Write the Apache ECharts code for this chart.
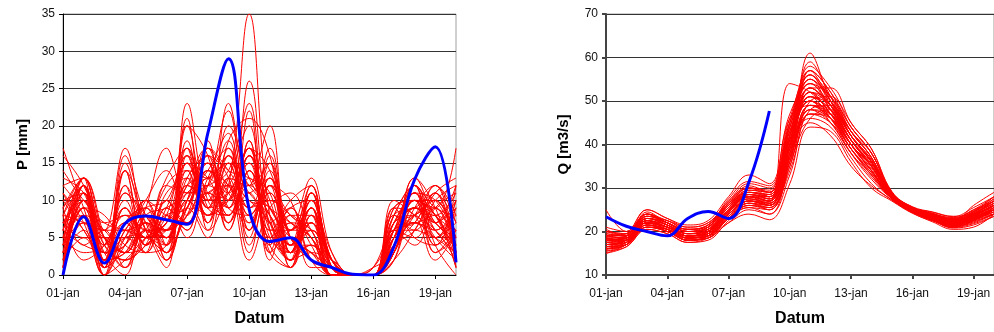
<!DOCTYPE html>
<html>
<head>
<meta charset="utf-8">
<script src="https://cdn.jsdelivr.net/npm/echarts@6/dist/echarts.min.js"></script>
<style>
  html, body { margin: 0; padding: 0; background: #fff; }
  #chart { width: 994px; height: 332px; }
</style>
</head>
<body>
<div id="chart"></div>
<script>
// Forecast dates (daily)
const days = ['01-jan','02-jan','03-jan','04-jan','05-jan','06-jan','07-jan','08-jan','09-jan','10-jan',
              '11-jan','12-jan','13-jan','14-jan','15-jan','16-jan','17-jan','18-jan','19-jan','20-jan'];

// Precipitation ensemble members [mm]
const precipMembers = [
  [17, 9, 2, 6, 5, 4, 10, 8, 12, 35, 8, 3, 6, 1, 0, 0, 4, 7, 5, 3],
  [16, 12, 5, 3, 7, 6, 9, 14, 10, 26, 6, 2, 9, 2, 0, 0, 6, 9, 8, 2],
  [12, 13, 6, 17, 6, 3, 23, 10, 8, 16, 9, 5, 3, 0, 0, 0, 3, 10, 9, 17],
  [10, 11, 1, 16, 8, 5, 20, 16, 6, 14, 4, 1, 11, 1, 0, 1, 8, 12, 7, 5],
  [8, 12, 2, 14, 4, 9, 15, 7, 23, 12, 20, 3, 7, 2, 0, 0, 5, 8, 10, 4],
  [7, 10, 4, 2, 9, 17, 11, 12, 14, 23, 3, 9, 4, 0, 0, 0, 2, 6, 11, 13],
  [5, 8, 3, 5, 6, 13, 17, 6, 18, 21, 16, 2, 10, 1, 0, 0, 9, 5, 4, 12],
  [3, 6, 1, 4, 10, 8, 7, 17, 9, 8, 14, 6, 13, 3, 0, 0, 7, 11, 3, 6],
  [0, 9, 7, 8, 3, 4, 12, 11, 16, 5, 12, 10, 2, 1, 0, 0, 4, 13, 9, 1],
  [1, 12, 0, 2, 5, 7, 16, 9, 12, 17, 2, 8, 5, 0, 0, 0, 3, 9, 12, 8],
  [9, 4, 6, 1, 8, 3, 9, 15, 6, 13, 7, 4, 11, 2, 0, 0, 6, 7, 5, 10],
  [6, 11, 2, 7, 4, 10, 5, 13, 17, 9, 11, 1, 8, 0, 0, 0, 10, 8, 6, 2],
  [4, 13, 5, 3, 6, 5, 14, 8, 10, 17, 5, 7, 1, 1, 0, 0, 5, 10, 8, 3],
  [11, 7, 0, 6, 9, 2, 10, 16, 13, 2, 9, 11, 6, 2, 0, 0, 4, 6, 11, 7],
  [2, 10, 3, 0, 7, 6, 8, 12, 22, 11, 13, 3, 9, 0, 0, 0, 8, 12, 4, 0],
  [8, 2, 4, 9, 5, 11, 13, 7, 15, 6, 17, 5, 3, 1, 0, 0, 2, 9, 7, 4],
  [5, 9, 8, 4, 3, 8, 6, 18, 7, 14, 6, 2, 12, 2, 0, 0, 6, 4, 9, 11],
  [0, 12, 1, 11, 6, 1, 17, 10, 11, 16, 3, 6, 7, 0, 0, 0, 9, 8, 2, 6],
  [7, 5, 5, 3, 8, 9, 11, 14, 19, 8, 10, 8, 5, 1, 0, 1, 3, 11, 10, 5],
  [3, 11, 2, 12, 4, 6, 9, 5, 13, 12, 15, 3, 10, 3, 0, 0, 5, 7, 6, 9],
  [12, 8, 0, 5, 10, 4, 20, 9, 8, 18, 7, 9, 2, 0, 0, 0, 7, 10, 8, 1],
  [6, 13, 4, 2, 5, 12, 14, 13, 16, 4, 12, 1, 8, 1, 0, 0, 4, 8, 12, 3],
  [4, 7, 6, 6, 7, 3, 8, 11, 9, 22, 4, 7, 6, 0, 0, 0, 6, 12, 5, 7],
  [1, 10, 1, 9, 5, 7, 12, 17, 14, 10, 9, 4, 11, 2, 0, 0, 8, 6, 9, 2],
  [9, 12, 3, 4, 8, 5, 10, 6, 11, 15, 5, 3, 4, 1, 0, 0, 3, 9, 7, 10],
  [10, 6, 2, 14, 3, 9, 6, 14, 12, 7, 11, 6, 9, 0, 0, 0, 5, 10, 3, 5],
  [2, 9, 5, 1, 6, 4, 15, 9, 20, 13, 8, 2, 7, 2, 0, 0, 6, 5, 10, 12],
  [7, 11, 0, 7, 9, 6, 11, 12, 10, 17, 14, 5, 3, 1, 0, 0, 2, 11, 8, 4],
  [5, 3, 4, 10, 4, 8, 9, 16, 7, 11, 6, 10, 12, 0, 0, 0, 7, 9, 6, 8],
  [0, 8, 2, 3, 7, 2, 13, 8, 15, 9, 10, 7, 5, 1, 0, 0, 4, 7, 11, 1],
  [14, 10, 7, 6, 5, 10, 7, 11, 9, 14, 3, 1, 8, 2, 0, 0, 9, 10, 4, 6],
  [3, 12, 1, 15, 6, 3, 16, 7, 13, 3, 12, 8, 6, 0, 0, 0, 5, 8, 9, 3],
  [6, 4, 3, 2, 4, 7, 10, 15, 8, 12, 8, 3, 10, 1, 0, 0, 3, 12, 7, 9],
  [8, 13, 6, 8, 8, 5, 12, 10, 17, 6, 13, 4, 4, 0, 0, 1, 6, 9, 5, 2],
  [4, 9, 2, 5, 10, 14, 8, 13, 11, 16, 9, 6, 11, 1, 0, 0, 8, 7, 8, 6],
  [1, 7, 5, 3, 6, 6, 18, 9, 12, 10, 7, 2, 3, 2, 0, 0, 4, 10, 6, 4],
  [13, 11, 4, 8, 6, 5, 12, 13, 15, 11, 8, 4, 6, 1, 0, 0, 5, 9, 8, 11],
  [5, 12, 3, 14, 7, 2, 10, 15, 12, 9, 16, 3, 7, 0, 0, 0, 7, 8, 10, 5],
  [2, 5, 1, 6, 9, 10, 16, 11, 7, 18, 5, 9, 10, 2, 0, 0, 3, 11, 6, 3],
  [9, 13, 5, 1, 5, 6, 8, 17, 14, 13, 11, 2, 4, 1, 0, 0, 6, 7, 12, 7],
  [4, 10, 2, 11, 8, 4, 21, 9, 10, 15, 6, 6, 9, 0, 0, 0, 9, 10, 7, 4],
  [7, 8, 6, 3, 4, 12, 11, 12, 18, 7, 12, 5, 2, 1, 0, 0, 4, 12, 9, 8],
  [0, 11, 0, 9, 6, 7, 14, 8, 13, 20, 4, 8, 8, 2, 0, 0, 6, 6, 5, 10],
  [11, 6, 3, 4, 10, 3, 9, 14, 11, 6, 15, 4, 12, 1, 0, 0, 8, 9, 11, 2],
  [6, 12, 4, 7, 5, 8, 17, 10, 16, 12, 9, 7, 5, 0, 0, 0, 5, 13, 8, 6],
  [3, 9, 1, 12, 7, 5, 13, 16, 9, 17, 10, 3, 11, 1, 0, 0, 7, 8, 4, 9],
  [8, 7, 5, 5, 3, 9, 7, 11, 12, 8, 13, 6, 6, 2, 0, 0, 3, 10, 10, 3],
  [1, 13, 2, 3, 8, 6, 15, 13, 8, 16, 7, 2, 9, 0, 0, 0, 6, 11, 7, 12]
];

// Observed precipitation [mm]
const precipObserved = [0, 7.8, 1.6, 6.9, 7.9, 7.4, 6.8, 19, 29, 8.8, 4.5, 5.0, 2.0, 1.0, 0.1, 0, 3.8, 12.8, 17.2, 1.7];

// Discharge ensemble members [m3/s]
const dischargeMembers = [
  [15, 17, 21, 20, 18, 19, 23, 26, 25, 38, 61, 50, 41, 35, 28, 25, 23, 21.5, 23, 26],
  [16, 17.5, 22, 21, 18.5, 19.5, 24, 27, 26, 40, 59, 51, 42, 36, 28.5, 25.2, 23.5, 22, 24, 27],
  [17, 18, 23, 22, 19, 20, 25, 28, 28, 42, 57, 52, 43, 37, 28, 25, 23, 21, 22.5, 25],
  [18, 19, 24, 21.5, 20, 21, 26, 30, 29, 44, 56, 49, 40, 34, 27.5, 24.8, 23, 22, 24.5, 28],
  [19, 18.5, 22.5, 20.5, 19, 19, 24, 27, 27, 54, 52, 47, 39, 33, 27.8, 24.5, 22.5, 21, 23, 24],
  [20, 19.5, 23.5, 22.5, 21, 22, 27, 31, 30, 45, 55, 50, 43, 38, 29, 25.5, 24, 23, 25, 27],
  [25, 20, 25, 23, 21.5, 22.5, 28, 33, 31, 47, 54, 48, 41, 35, 28.3, 25, 23.2, 22.5, 26, 29],
  [16.5, 17, 21.5, 20, 18, 18.5, 23, 25.5, 24, 36, 53, 53, 45, 39, 29, 25.7, 24.5, 23.5, 24, 25],
  [17.5, 18.5, 22, 21, 19.5, 20.5, 24.5, 28.5, 27.5, 41, 52, 50, 42, 36, 28.2, 24.8, 23, 21.8, 23.5, 26],
  [18.5, 18, 23, 21.5, 18.5, 19, 25, 27.5, 26.5, 39, 51, 46, 38, 32, 27.5, 24.5, 22.8, 21.2, 22, 24],
  [19.5, 19, 24.5, 22, 20.5, 21.5, 26.5, 29, 28.5, 43, 50, 47, 40, 34, 28, 25, 23.5, 22.3, 24, 26.5],
  [15.5, 16.5, 20.5, 19.5, 17.5, 18, 22.5, 26, 25.5, 34, 48, 49, 42, 36, 28.8, 25.3, 24, 23, 25, 28],
  [17, 17.5, 21, 20.5, 19, 19.5, 24, 27, 26, 37, 47, 45, 39, 33, 27.7, 24.6, 22.6, 20.8, 21.5, 23.5],
  [18, 18, 22, 21, 18.5, 20, 25.5, 28, 27, 40, 46, 44, 37, 31, 27.2, 24.3, 22.2, 20.5, 21, 24],
  [20.5, 19, 23, 22, 20, 21, 27, 30, 29.5, 46, 49, 46, 40, 35, 28.4, 25.1, 23.3, 22, 23.8, 26],
  [16, 17, 21, 20, 18, 18.5, 22, 24, 22.7, 31, 44, 43, 36, 30, 27, 24.2, 22.4, 21, 22.5, 25],
  [17.5, 18, 22.5, 21.5, 19.5, 20, 24.5, 27.5, 27, 39, 45, 42, 35, 30.5, 27.3, 24.4, 22.9, 21.6, 23, 25.5],
  [19, 19.5, 24, 22.5, 20.5, 21.5, 25.5, 29.5, 29, 44, 53, 48, 41, 35.5, 28.6, 25.3, 23.8, 22.4, 24.2, 27],
  [18, 18.5, 22, 21, 19, 19.5, 24, 26.5, 25, 35, 50, 51, 44, 38, 28.9, 25.6, 24.2, 22.8, 23.5, 25],
  [16.5, 17.5, 21.5, 20.5, 18, 19, 23.5, 26, 25.5, 37, 57, 50, 42, 36, 28.1, 24.9, 23.1, 21.4, 22.8, 24.5],
  [21, 20, 25, 23, 21, 22, 26, 29, 28, 42, 58, 53, 45, 39, 29.2, 25.6, 24.4, 23.4, 25.5, 28],
  [17, 18, 22.5, 21, 19, 20, 25, 28, 26, 39, 52, 47, 40, 34, 27.9, 24.7, 22.9, 21.3, 22.2, 24],
  [18.5, 19, 23.5, 22, 20, 20.5, 25, 29, 28, 43, 54, 49, 41, 35, 28.3, 25, 23.4, 22.1, 23.7, 26],
  [15, 16.5, 20.5, 19.5, 17.5, 18.5, 22, 25, 24, 33, 47, 47, 41, 36, 28.7, 25.4, 24.1, 23.2, 24.8, 27.5],
  [19, 18.5, 23, 21.5, 19.5, 21, 26, 28.5, 27.5, 41, 50, 45, 38, 32.5, 27.6, 24.6, 22.7, 21.1, 22.6, 25],
  [16, 17, 22, 20, 18.5, 19, 23, 26.5, 26, 36, 46, 48, 43, 37, 28.5, 25.2, 23.6, 22.2, 23.2, 25.5],
  [18, 19, 24, 22, 20, 21, 26.5, 30.5, 29, 45, 55, 48, 40, 34, 27.8, 24.7, 23, 21.7, 23, 25],
  [17.5, 18, 21.5, 20.5, 18.5, 19.5, 24, 27, 26.5, 38, 49, 46, 39, 33.5, 27.9, 24.9, 23.2, 21.9, 23.3, 26.5],
  [20, 19.5, 24, 22, 20.5, 21.5, 27.5, 31.5, 30.5, 46, 56, 51, 43, 37, 28.6, 25.3, 23.7, 22.6, 24.6, 27],
  [16.5, 17, 21, 20, 18, 18.5, 23, 25.5, 25, 35, 48, 47, 40, 35, 28.2, 25, 23.3, 21.8, 22.4, 24],
  [18, 18, 22.5, 21, 19, 20, 24.5, 28, 27, 40, 51, 48, 41, 35.5, 28.4, 25.1, 23.5, 22.2, 23.9, 26],
  [17, 17.5, 22, 21, 19, 20.5, 25, 28.5, 28, 41, 53, 49, 42, 36.5, 28.7, 25.4, 23.9, 22.7, 24, 25.5],
  [19.5, 19, 23.5, 22, 20, 21, 26, 29, 28.5, 42, 50, 46, 39, 34, 28, 24.8, 23, 21.5, 22.9, 25],
  [16, 17, 21.5, 20.5, 18.5, 19, 23.5, 26.5, 26, 37, 48, 45, 38, 33, 27.5, 24.5, 22.6, 20.9, 21.8, 23.5],
  [18.5, 18.5, 22.5, 21.5, 19.5, 20, 25, 28, 27.5, 40, 52, 49, 42, 36, 28.3, 25.1, 23.4, 22.3, 24.3, 26.5],
  [17, 18, 22, 20.5, 18.5, 19.5, 24.5, 27, 26.5, 38, 49, 47, 41, 35, 28.1, 24.9, 23, 21.6, 23.1, 25],
  [17.5, 18, 22, 21, 19, 20, 25, 28.5, 27.5, 42, 56, 50, 42, 36, 28.4, 25.1, 23.4, 22, 23.6, 26],
  [16, 17.5, 21.5, 20, 18, 19, 23.5, 27, 26, 39, 51, 48, 41, 35, 28, 24.8, 23, 21.5, 22.7, 24.5],
  [19, 19, 23.5, 22.5, 20.5, 21, 26, 29.5, 29, 44, 54, 51, 44, 38, 28.8, 25.5, 24, 22.9, 24.5, 27],
  [18, 18.5, 22.5, 21, 19, 20, 24, 27.5, 26.5, 37, 47, 46, 40, 34.5, 28.1, 24.9, 23.2, 21.7, 23, 25.5],
  [17, 17.5, 22, 21, 19.5, 20.5, 25.5, 29, 28.5, 41, 53, 49, 41, 35, 28.2, 25, 23.3, 22.1, 23.8, 26],
  [20, 19, 24, 22, 20, 21, 26, 30, 28, 43, 52, 47, 40, 35, 28.3, 25, 23.4, 22, 23.4, 25],
  [15.5, 17, 21, 20.5, 18, 19, 23, 26.5, 25.5, 36, 49, 48, 42, 36.5, 28.6, 25.3, 23.8, 22.6, 24.2, 26.5],
  [18.5, 18, 23, 21.5, 19, 20, 25, 28, 27, 40, 55, 51, 43, 37, 28.5, 25.2, 23.5, 22.2, 23.5, 25],
  [16.5, 18, 22.5, 21, 19, 19.5, 24.5, 28, 27, 40, 50, 47, 40, 34, 27.9, 24.8, 23.1, 21.6, 22.9, 24.5],
  [19, 19.5, 24, 22, 20, 21.5, 26.5, 30, 29, 45, 57, 52, 44, 38, 28.9, 25.5, 24, 22.8, 24.6, 27.5],
  [17, 18, 22, 21, 19, 20, 24, 27, 26, 38, 48, 46, 39, 33.5, 27.7, 24.6, 22.8, 21.4, 22.6, 24],
  [18, 18.5, 23, 21.5, 19.5, 20.5, 25.5, 28.5, 28, 42, 51, 49, 42, 36, 28.4, 25.1, 23.6, 22.4, 24, 26]
];

// Observed discharge [m3/s], available up to 09-jan
const dischargeObserved = [23.4, 21.2, 20.0, 19.0, 23.0, 24.6, 23.0, 31.4, 47.7];

const FONT = '"Liberation Sans", Arial, sans-serif';
const ENSEMBLE_COLOR = '#ff0000';
const OBS_COLOR = '#0000ff';

function xAxisFor(gridIndex, axisColor, axisWidth) {
  return {
    gridIndex,
    type: 'category',
    data: days,
    boundaryGap: false,
    name: 'Datum',
    nameLocation: 'middle',
    nameGap: 36,
    nameTextStyle: { fontFamily: FONT, fontWeight: 'bold', fontSize: 16, color: '#000' },
    axisLine: { lineStyle: { color: axisColor, width: axisWidth } },
    axisTick: { show: true, interval: 2, length: 4, lineStyle: { color: axisColor, width: axisWidth } },
    axisLabel: { interval: 2, margin: 13, fontFamily: FONT, fontSize: 12, color: '#111' },
    splitLine: { show: false }
  };
}

function yAxisFor(gridIndex, name, min, max, interval, nameGap, axisColor, axisWidth) {
  return {
    gridIndex,
    type: 'value',
    min, max, interval,
    name,
    nameLocation: 'middle',
    nameGap,
    nameTextStyle: { fontFamily: FONT, fontWeight: 'bold', fontSize: 15, color: '#000' },
    axisLine: { show: true, lineStyle: { color: axisColor, width: axisWidth } },
    axisTick: { show: true, length: 4, lineStyle: { color: axisColor, width: axisWidth } },
    axisLabel: { margin: 8, fontFamily: FONT, fontSize: 12, color: '#111' },
    splitLine: { show: true, lineStyle: { color: '#333', width: 1 } }
  };
}

function lineSeries(data, axisIndex, color, width, z) {
  return {
    type: 'line',
    xAxisIndex: axisIndex,
    yAxisIndex: axisIndex,
    data,
    smooth: 0.4,
    symbol: 'none',
    silent: true,
    clip: true,
    z,
    lineStyle: { color, width }
  };
}

const series = [];
precipMembers.forEach(m => series.push(lineSeries(m, 0, ENSEMBLE_COLOR, 1, 2)));
series.push(lineSeries(precipObserved, 0, OBS_COLOR, 3, 3));
dischargeMembers.forEach(m => series.push(lineSeries(m, 1, ENSEMBLE_COLOR, 1, 2)));
series.push(lineSeries(dischargeObserved, 1, OBS_COLOR, 3, 3));

const chart = echarts.init(document.getElementById('chart'), null, { renderer: 'canvas' });
chart.setOption({
  animation: false,
  backgroundColor: '#fff',
  grid: [
    { left: 63, top: 14, width: 393, height: 263, show: true, borderColor: '#a0a0a0', borderWidth: 1 },
    { left: 606, top: 14, width: 394, height: 263, show: true, borderColor: '#a0a0a0', borderWidth: 1 }
  ],
  xAxis: [xAxisFor(0, '#000', 1), xAxisFor(1, '#444', 2)],
  yAxis: [
    yAxisFor(0, 'P [mm]', 0, 35, 5, 33, '#000', 1),
    yAxisFor(1, 'Q [m3/s]', 10, 70, 10, 35, '#444', 2)
  ],
  series
});
</script>
</body>
</html>
